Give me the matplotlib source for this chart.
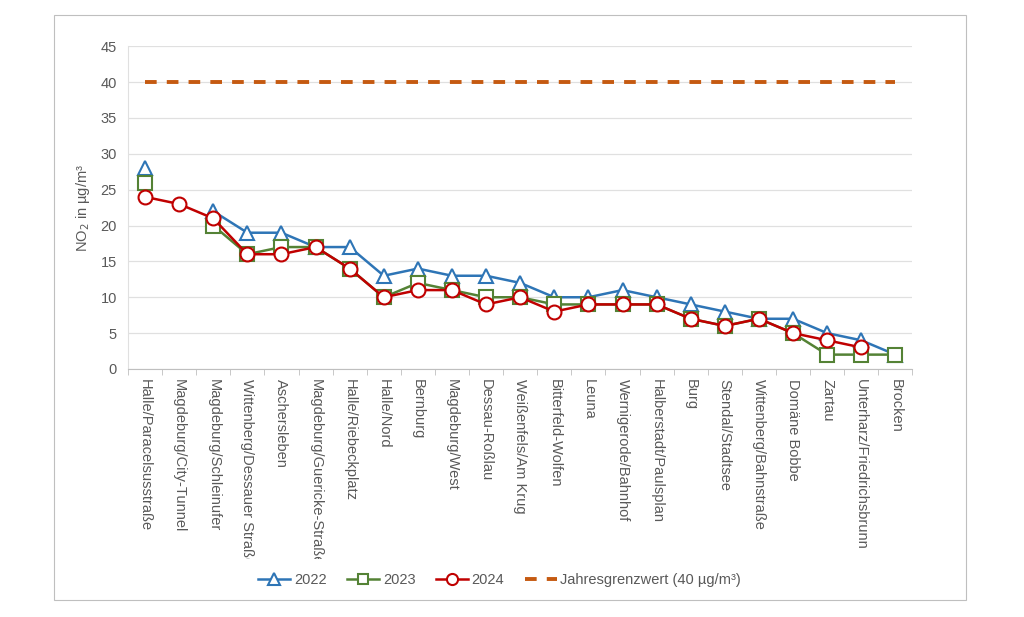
import numpy as np
import matplotlib.pyplot as plt
from matplotlib.patches import Rectangle
from matplotlib.transforms import Bbox, TransformedBbox

plt.rcParams['font.family'] = ['Liberation Sans', 'DejaVu Sans']

stations = ['Halle/Paracelsusstraße', 'Magdeburg/City-Tunnel', 'Magdeburg/Schleinufer',
            'Wittenberg/Dessauer Straße', 'Aschersleben', 'Magdeburg/Guericke-Straße',
            'Halle/Riebeckplatz', 'Halle/Nord', 'Bernburg', 'Magdeburg/West',
            'Dessau-Roßlau', 'Weißenfels/Am Krug', 'Bitterfeld-Wolfen', 'Leuna',
            'Wernigerode/Bahnhof', 'Halberstadt/Paulsplan', 'Burg', 'Stendal/Stadtsee',
            'Wittenberg/Bahnstraße', 'Domäne Bobbe', 'Zartau', 'Unterharz/Friedrichsbrunn',
            'Brocken']
nan = np.nan
no2_2022 = [28, nan, 22, 19, 19, 17, 17, 13, 14, 13, 13, 12, 10, 10, 11, 10, 9, 8, 7, 7, 5, 4, 2]
no2_2023 = [26, nan, 20, 16, 17, 17, 14, 10, 12, 11, 10, 10, 9, 9, 9, 9, 7, 6, 7, 5, 2, 2, 2]
no2_2024 = [24, 23, 21, 16, 16, 17, 14, 10, 11, 11, 9, 10, 8, 9, 9, 9, 7, 6, 7, 5, 4, 3, nan]
grenzwert = 40

fig = plt.figure(figsize=(10.24, 6.17), dpi=100)
ax = fig.add_axes([0.125, 0.402, 0.766, 0.523])

x = np.arange(len(stations))
ax.plot(x, no2_2022, color='#2E75B6', lw=1.8, marker='^', ms=10, mfc='white', mew=1.5, label='2022', zorder=3)
ax.plot(x, no2_2023, color='#548235', lw=1.8, marker='s', ms=9.5, mfc='white', mew=1.5, label='2023', zorder=4)
ax.plot(x, no2_2024, color='#C00000', lw=1.8, marker='o', ms=10, mfc='white', mew=1.5, label='2024', zorder=5)
ax.plot(x, [grenzwert] * len(x), color='#C55A11', lw=2.8, ls=(0, (3, 2.6)),
        label='Jahresgrenzwert (40 µg/m³)', zorder=2)

ax.set_xlim(-0.5, len(stations) - 0.5)
ax.set_ylim(0, 45)
ax.set_yticks(range(0, 46, 5))
ax.set_xticks(x)
ax.set_xticklabels(stations, rotation=270, va='top', ha='center')
ax.set_xticks(np.arange(-0.5, len(stations), 1), minor=True)
ax.tick_params(axis='x', which='major', length=0, pad=7, labelsize=10.5, labelcolor='#595959')
ax.tick_params(axis='x', which='minor', length=4, color='#BFBFBF')
ax.tick_params(axis='y', length=0, labelsize=10.5, labelcolor='#595959', pad=8)
ax.grid(axis='y', color='#E0E0E0', lw=0.9)
ax.set_axisbelow(True)
for s in ['top', 'right']:
    ax.spines[s].set_visible(False)
ax.spines['left'].set_color('#E0E0E0')
ax.spines['bottom'].set_color('#BFBFBF')
ax.set_ylabel('NO$_2$ in µg/m³', fontsize=10.5, color='#595959', labelpad=6)

# Beschriftungen wie im Original unten abschneiden
clip = TransformedBbox(Bbox([[0, 1 - 559 / 617], [1, 1]]), fig.transFigure)
for lab in ax.get_xticklabels():
    lab.set_clip_box(clip)
    lab.set_clip_on(True)

fig.legend(loc='center', bbox_to_anchor=(0.488, 0.06), ncol=4, frameon=False,
           fontsize=10.5, labelcolor='#595959', handlelength=2.2, handletextpad=0.25,
           columnspacing=1.4, markerscale=0.8)

fig.patches.append(Rectangle((54 / 1024, 1 - 600 / 617), 912 / 1024, 585 / 617,
                             transform=fig.transFigure, fill=False, ec='#BFBFBF', lw=0.8))

fig.savefig('out.png', dpi=100)
